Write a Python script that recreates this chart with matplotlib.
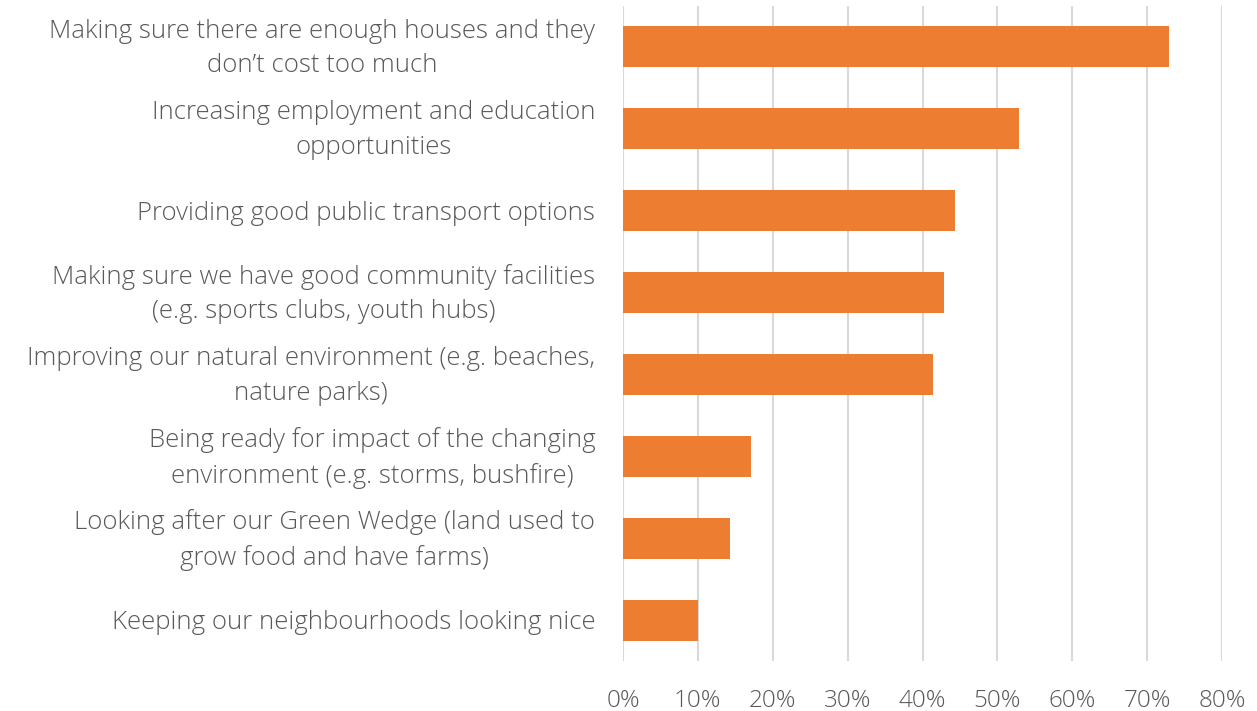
import matplotlib
matplotlib.use("Agg")
import matplotlib.pyplot as plt
from matplotlib.ticker import PercentFormatter
from matplotlib.transforms import offset_copy

categories = [
    "Making sure there are enough houses and they\ndon\u2019t cost too much",
    "Increasing employment and education\nopportunities",
    "Providing good public transport options",
    "Making sure we have good community facilities\n(e.g. sports clubs, youth hubs)",
    "Improving our natural environment (e.g. beaches,\nnature parks)",
    "Being ready for impact of the changing\nenvironment (e.g. storms, bushfire)",
    "Looking after our Green Wedge (land used to\ngrow food and have farms)",
    "Keeping our neighbourhoods looking nice",
]
values = [72.9, 52.9, 44.3, 42.9, 41.4, 17.1, 14.3, 10.0]
ticks = [0, 10, 20, 30, 40, 50, 60, 70, 80]

plt.rcParams["font.family"] = ["Open Sans", "DejaVu Sans"]
text_color = "#595959"

fig = plt.figure(figsize=(12.57, 7.11), dpi=100)
ax = fig.add_axes([0.4956, 0.0703, 0.4766, 0.9213])

y = list(range(len(categories)))
ax.barh(y, values, height=0.5, color="#ED7D31", zorder=3)
ax.set_ylim(len(categories) - 0.5, -0.5)
ax.set_xlim(0, 80)
ax.set_xticks(ticks)
ax.xaxis.set_major_formatter(PercentFormatter(decimals=0))
ax.set_yticks(y)
ax.set_yticklabels([])
ax.tick_params(axis="y", length=0)
ax.tick_params(axis="x", length=0, pad=20, labelsize=17.5, labelcolor=text_color)
for lab in ax.get_xticklabels():
    lab.set_fontweight("light")

# category labels drawn by hand so two-line ones can sit a little high, like the original
for yi, txt in zip(y, categories):
    dy = -1 if "\n" in txt else -2
    tr = offset_copy(ax.get_yaxis_transform(), fig=fig, x=-20, y=dy, units="points")
    ax.text(0, yi, txt, transform=tr, ha="right", va="center",
            multialignment="center", fontsize=18.5, color=text_color,
            fontweight="light", linespacing=1.5)

ax.grid(axis="x", color="#D9D9D9", linewidth=1.5, zorder=0)
for s in ax.spines.values():
    s.set_visible(False)

fig.savefig("out.png", dpi=100)
